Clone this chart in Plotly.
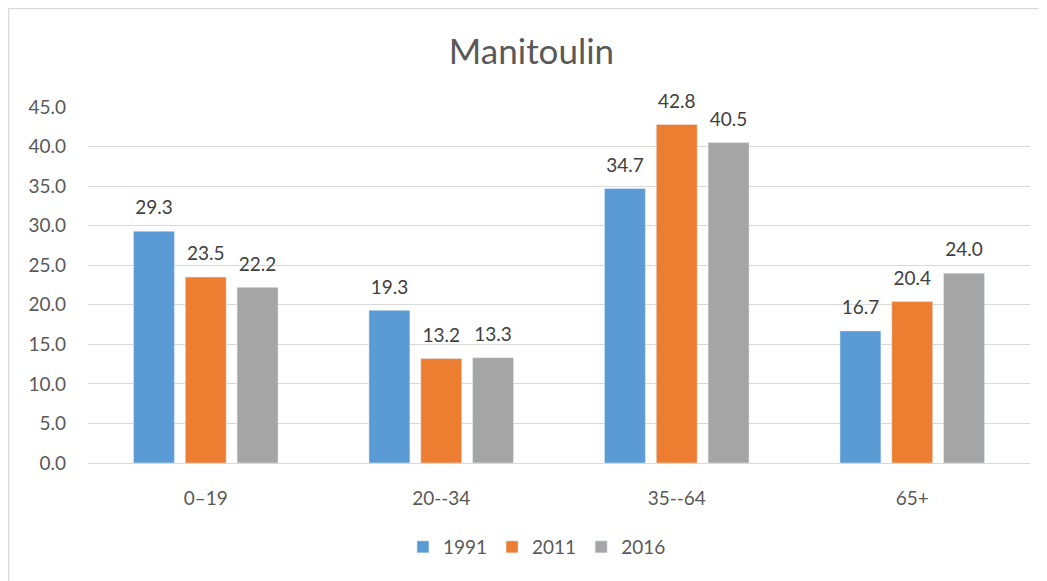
import plotly.graph_objects as go

categories = ["0\u201319", "20--34", "35--64", "65+"]
years = ["1991", "2011", "2016"]
v1991 = [29.3, 19.3, 34.7, 16.7]
v2011 = [23.5, 13.2, 42.8, 20.4]
v2016 = [22.2, 13.3, 40.5, 24.0]
colors = ["#5B9BD5", "#ED7D31", "#A5A5A5"]

FONT = "Lato, 'Open Sans', sans-serif"
L, R, T, B = 80, 25, 99, 126
W, H = 1047, 581
PW, PH = W - L - R, H - T - B

fig = go.Figure()
for name, vals, c in zip(years, [v1991, v2011, v2016], colors):
    fig.add_trace(go.Bar(
        x=categories, y=vals, name=name, marker_color=c,
        text=[f"<span style='font-size:19px'>{v:.1f}</span><br> " for v in vals],
        textposition="outside",
        textfont=dict(size=9, color="#404040", family=FONT),
        cliponaxis=False,
    ))

fig.update_layout(
    width=W, height=H,
    margin=dict(l=L, r=R, t=T, b=B),
    paper_bgcolor="white", plot_bgcolor="white",
    font=dict(family=FONT, color="#595959", size=19),
    title=dict(text="Manitoulin", x=0.5, xanchor="center", y=1 - 44/H, yanchor="middle",
               font=dict(size=35, color="#595959", family=FONT)),
    barmode="group", bargap=0.34, bargroupgap=0.21,
    legend=dict(orientation="h", x=0.4766, xanchor="center", y=-84/PH, yanchor="middle",
                font=dict(size=19, color="#595959"), itemwidth=30, traceorder="normal"),
    yaxis=dict(range=[0, 45], dtick=5, tickformat=".1f", showgrid=True, gridcolor="#D9D9D9",
               gridwidth=1, zeroline=True, zerolinecolor="#D9D9D9", zerolinewidth=1,
               ticklabelstandoff=21, tickfont=dict(size=19, color="#595959")),
    xaxis=dict(showline=True, linecolor="#D9D9D9", ticklabelstandoff=18,
               tickfont=dict(size=19, color="#595959")),
    shapes=[dict(type="rect", xref="paper", yref="paper",
                 x0=-L/PW, x1=1 + R/PW, y0=-B/PH, y1=1 + T/PH,
                 line=dict(color="#D9D9D9", width=2.5), fillcolor="rgba(0,0,0,0)", layer="below")],
)
fig.write_html("out.html")
